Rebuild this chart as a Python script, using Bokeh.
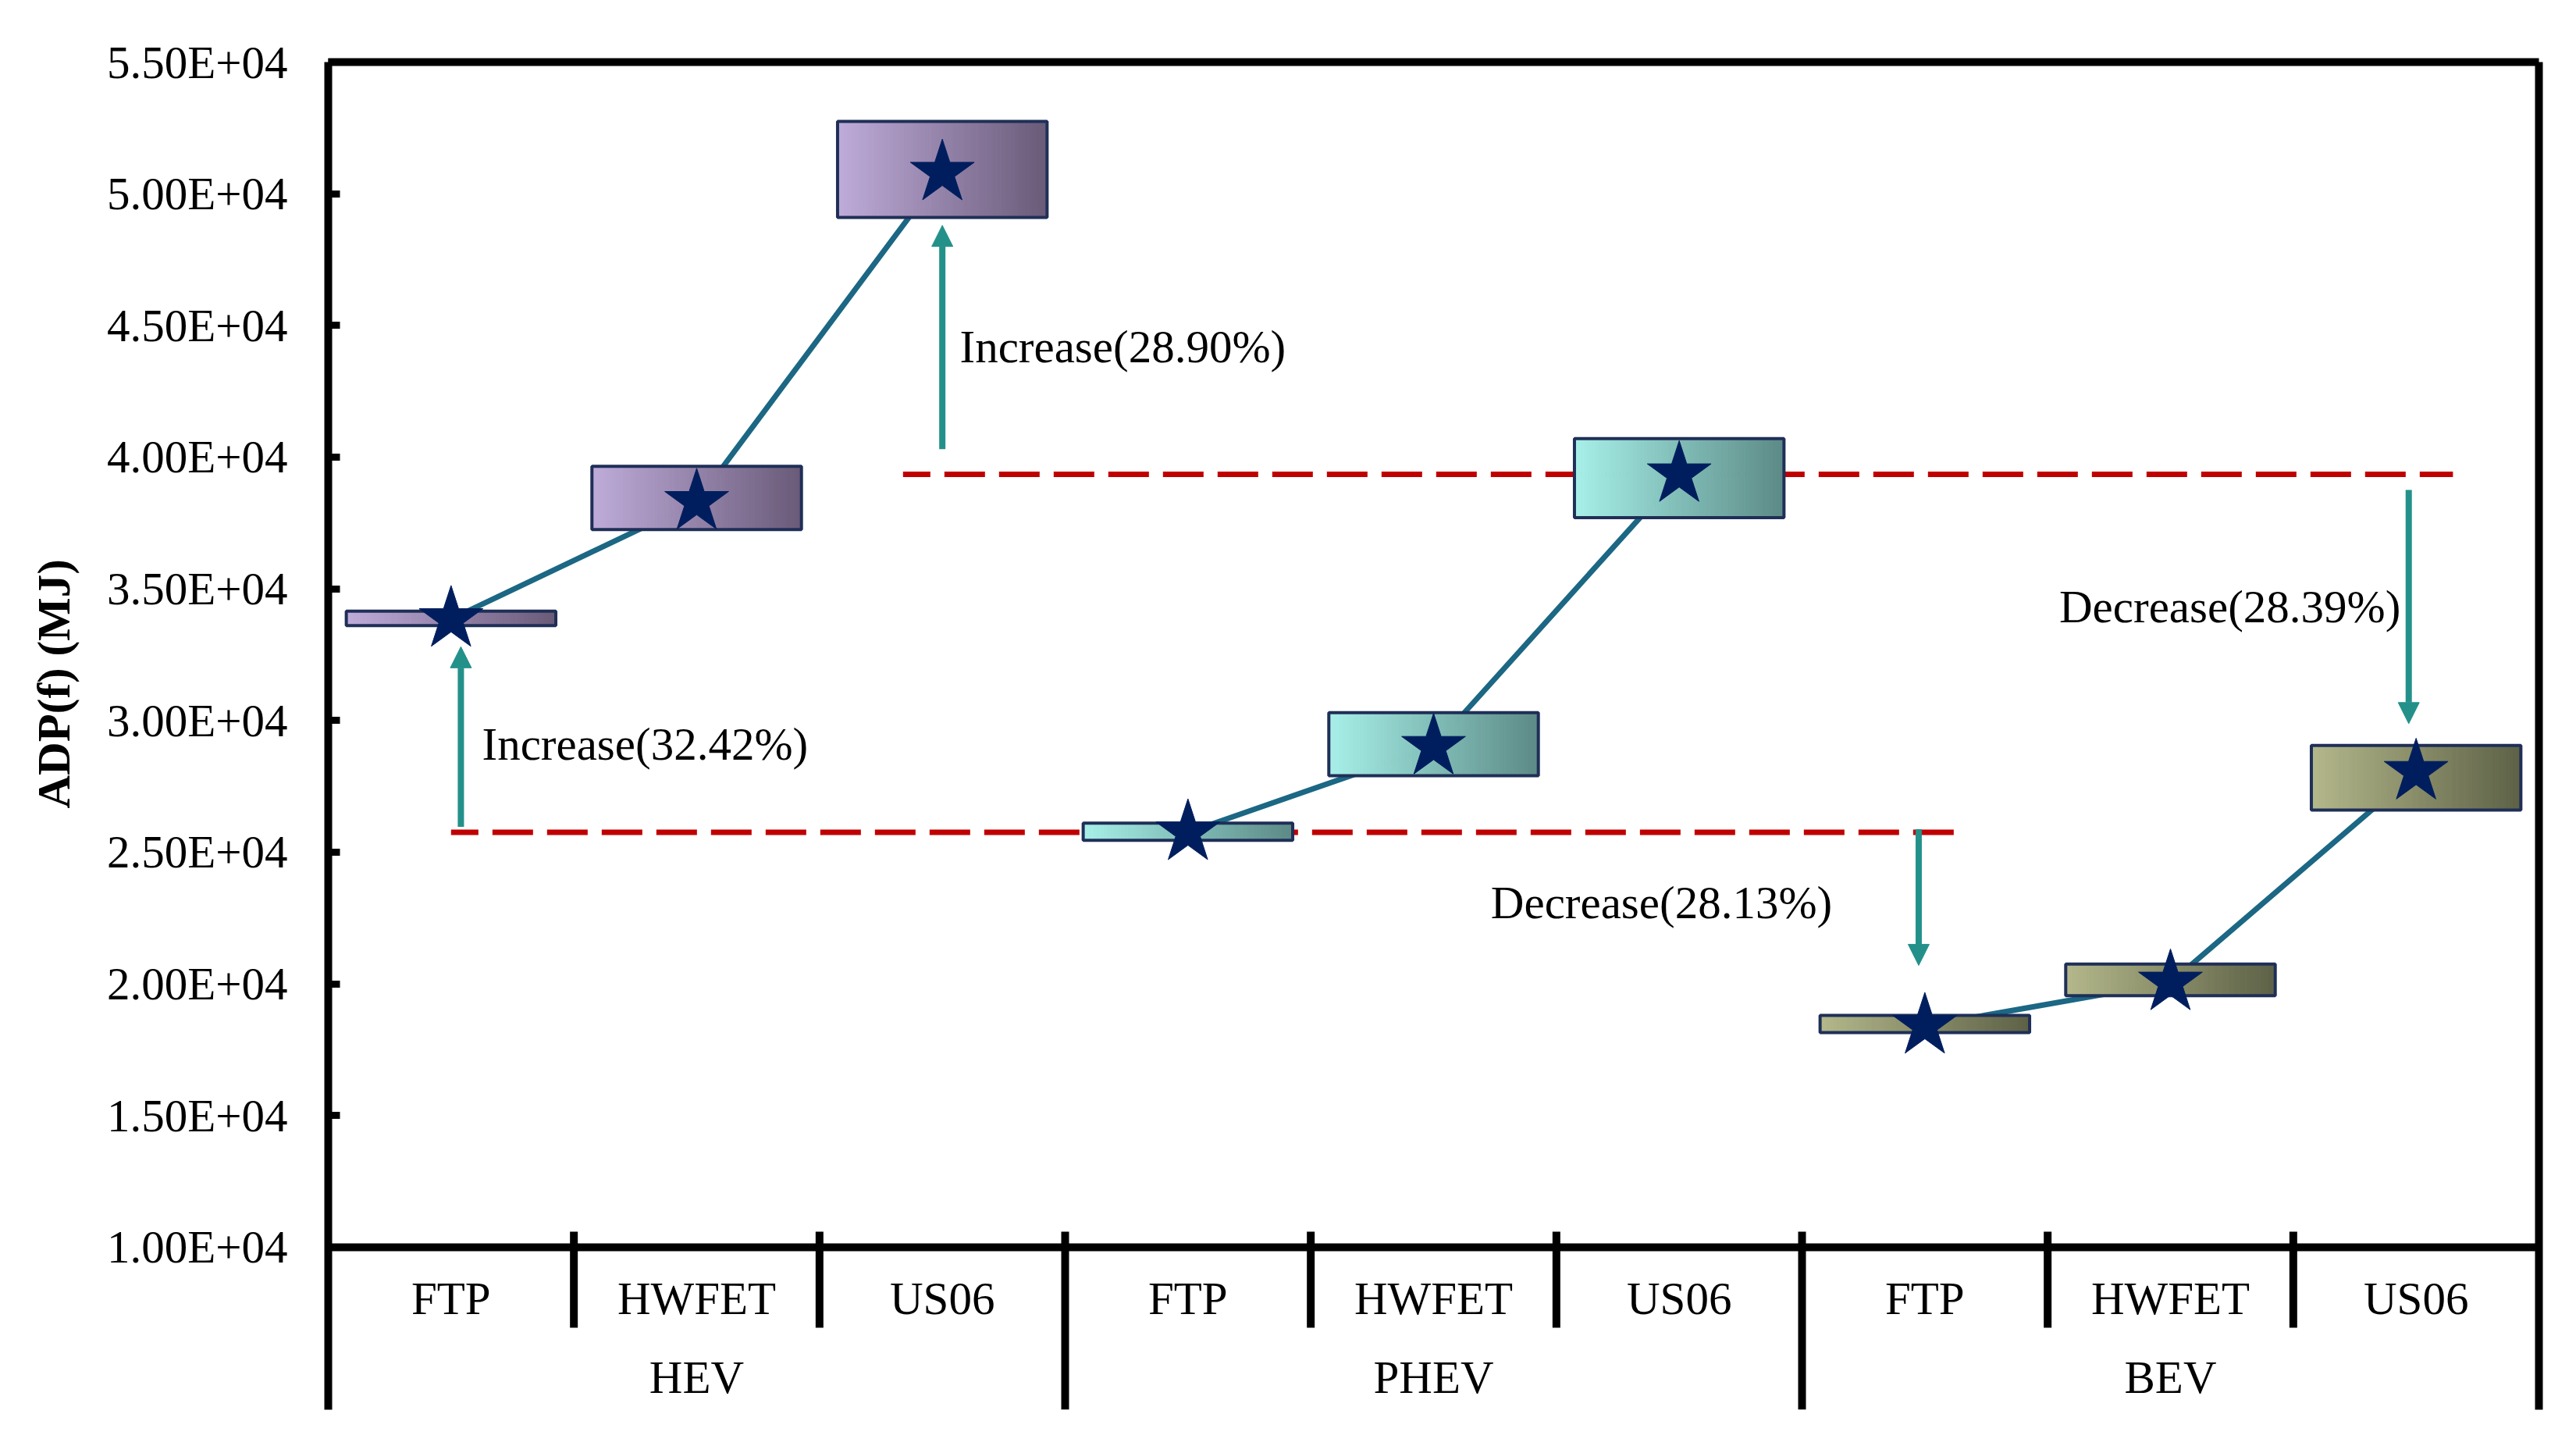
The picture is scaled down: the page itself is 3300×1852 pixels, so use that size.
import numpy as np
from bokeh.plotting import figure
from bokeh.models import (Range1d, LinearAxis, FixedTicker, ColumnDataSource,
                          Arrow, NormalHead, Title)
from bokeh.core.properties import value
from bokeh.embed import file_html
from bokeh.resources import INLINE

# ---------------- data ----------------
groups = ["HEV", "PHEV", "BEV"]
cycles = ["FTP", "HWFET", "US06"]
adp_low = [33600, 37250, 49100, 25450, 27900, 37700, 18150, 19550, 26600]
adp_high = [34150, 39650, 52750, 26100, 30300, 40700, 18800, 20750, 29050]
adp_mid = [33850, 38300, 50800, 25750, 29000, 39350, 18400, 20050, 28050]
y_ticks = [10000, 15000, 20000, 25000, 30000, 35000, 40000, 45000, 50000, 55000]

grad_left = ["#BEABD9", "#A6EFE8", "#B3B78A"]
grad_right = ["#6A5B79", "#5D8B87", "#5E6247"]

# annotations
ref_level = [adp_mid[3], adp_mid[5]]
ref_x0 = [0.5, 2.34]
ref_x1 = [6.65, 8.65]
arrow_x = [0.54, 2.5, 6.475, 8.47]
arrow_y0 = [25960, 40300, 25870, 38750]
arrow_y1 = [32800, 48800, 20700, 29880]
note_text = ["Increase(32.42%)", "Increase(28.90%)", "Decrease(28.13%)", "Decrease(28.39%)"]
note_x = [0.626, 2.571, 6.123, 8.437]
note_y = [29090, 44180, 23090, 34320]
note_align = ["left", "left", "right", "right"]
cycle_label_y = 8044
group_label_y = 5058

FONT = value("Liberation Serif")
FS = "59px"
BW = 0.853
NSL = 60

n_cat = len(groups) * len(cycles)
xc = [i + 0.5 for i in range(n_cat)]

p = figure(frame_width=2832, frame_height=1726,
           x_range=Range1d(0, n_cat), y_range=Range1d(3830, 55000),
           output_backend="svg", toolbar_location=None,
           min_border_left=420, min_border_right=40,
           min_border_top=79, min_border_bottom=39,
           background_fill_color="white", border_fill_color="white",
           outline_line_color=None)
p.xaxis.visible = False
p.xgrid.visible = False
p.ygrid.visible = False

ya = p.yaxis[0]
ya.ticker = FixedTicker(ticks=y_ticks)
ya.major_label_overrides = {t: f"{t:.2E}" for t in y_ticks}
ya.major_label_text_font = "Liberation Serif"
ya.major_label_text_font_size = FS
ya.major_label_text_color = "black"
ya.major_label_standoff = 52
ya.major_tick_in = 15
ya.major_tick_out = 0
ya.major_tick_line_width = 9
ya.major_tick_line_color = "black"
ya.minor_tick_line_color = None
ya.axis_line_width = 10
ya.axis_line_color = "black"

for side in ("above", "right"):
    ax = LinearAxis(ticker=FixedTicker(ticks=[]), major_tick_line_color=None,
                    minor_tick_line_color=None, axis_line_width=10,
                    axis_line_color="black", major_label_standoff=0)
    p.add_layout(ax, side)

# y-axis title
p.add_layout(Title(text="ADP(f) (MJ)", align="left", offset=770, standoff=63,
                   text_font="Liberation Serif", text_font_size=FS,
                   text_font_style="bold", text_color="black"), "left")

# dashed reference lines
p.segment(x0=ref_x0, x1=ref_x1, y0=ref_level, y1=ref_level,
          line_color="#C00000", line_width=7, line_dash="52 18", line_dash_offset=17)

# connecting lines inside each group
for g in range(len(groups)):
    sl = slice(3 * g, 3 * g + 3)
    p.line(xc[sl], adp_mid[sl], line_color="#1B6784", line_width=7)


def hex2rgb(h):
    h = h.lstrip("#")
    return np.array([int(h[i:i + 2], 16) for i in (0, 2, 4)], dtype=float)


# gradient boxes
gl, gr, gb, gt, gc = [], [], [], [], []
for i in range(n_cat):
    g = i // 3
    c0, c1 = hex2rgb(grad_left[g]), hex2rgb(grad_right[g])
    left = xc[i] - BW / 2
    for k in range(NSL):
        t = k / (NSL - 1)
        col = c0 + (c1 - c0) * t
        gl.append(left + k * BW / NSL)
        gr.append(left + (k + 1) * BW / NSL)
        gb.append(adp_low[i])
        gt.append(adp_high[i])
        gc.append("#%02x%02x%02x" % tuple(int(round(v)) for v in col))
p.quad(left=gl, right=gr, bottom=gb, top=gt, fill_color=gc, line_color=gc, line_width=1)
p.quad(left=[x - BW / 2 for x in xc], right=[x + BW / 2 for x in xc],
       bottom=adp_low, top=adp_high, fill_color=None,
       line_color="#1F2F57", line_width=4)

# stars
p.scatter(xc, adp_mid, marker="star", size=86, fill_color="#001E5E",
          line_color="#001E5E", line_width=1)

# arrows
teal = "#23918A"
asrc = ColumnDataSource(dict(x=arrow_x, y0=arrow_y0, y1=arrow_y1))
p.add_layout(Arrow(end=NormalHead(size=27, fill_color=teal, line_color=teal, line_width=1),
                   source=asrc, x_start="x", y_start="y0", x_end="x", y_end="y1",
                   line_color=teal, line_width=8))

# annotation texts
for al in ("left", "right"):
    idx = [j for j in range(len(note_text)) if note_align[j] == al]
    p.text(x=[note_x[j] for j in idx], y=[note_y[j] for j in idx],
           text=[note_text[j] for j in idx], text_font=FONT, text_font_size=FS,
           text_align=al, text_baseline="middle", text_color="black")

# category axis drawn in data space
p.segment(x0=[0], x1=[n_cat], y0=[10000], y1=[10000], line_color="black", line_width=10)
sub_sep = [1, 2, 4, 5, 7, 8]
grp_sep = [3, 6]
p.segment(x0=sub_sep, x1=sub_sep, y0=[10590] * len(sub_sep), y1=[6945] * len(sub_sep),
          line_color="black", line_width=10)
p.segment(x0=grp_sep, x1=grp_sep, y0=[10590] * len(grp_sep), y1=[3830] * len(grp_sep),
          line_color="black", line_width=10)
p.text(x=xc, y=[cycle_label_y] * n_cat, text=cycles * len(groups), text_font=FONT,
       text_font_size=FS, text_align="center", text_baseline="middle", text_color="black")
p.text(x=[1.5, 4.5, 7.5], y=[group_label_y] * 3, text=groups, text_font=FONT,
       text_font_size=FS, text_align="center", text_baseline="middle", text_color="black")

open("out.html", "w").write(file_html(p, INLINE))
